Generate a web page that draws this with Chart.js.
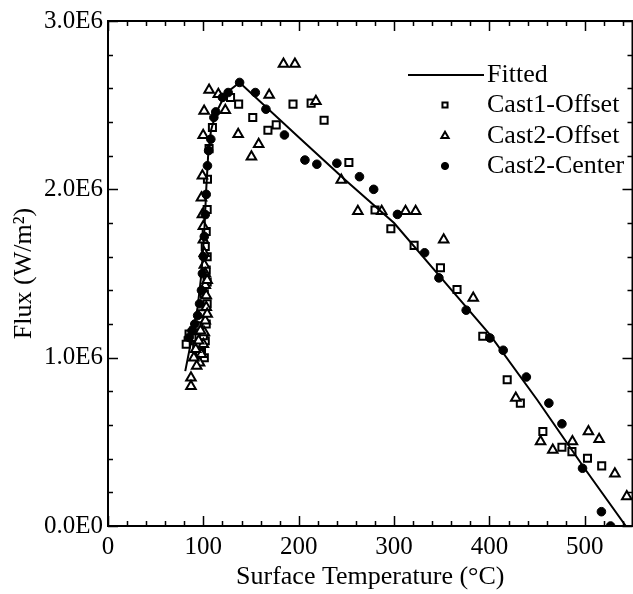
<!DOCTYPE html>
<html>
<head>
<meta charset="utf-8">
<script src="https://cdn.jsdelivr.net/npm/chart.js@4/dist/chart.umd.min.js"></script>
<style>
  html, body { margin: 0; padding: 0; background: #fff; overflow: hidden; }
  #wrap { width: 633px; height: 594px; overflow: hidden; position: relative; }
</style>
</head>
<body>
<div id="wrap"><canvas id="c" width="640" height="594"></canvas></div>
<script>
// Axis ticks
const xTickValues = [0, 100, 200, 300, 400, 500];
const yTickValues = [0, 1e6, 2e6, 3e6];
const yTickLabels = ['0.0E0', '1.0E6', '2.0E6', '3.0E6'];

// [surface temperature (°C), flux (MW/m²)]
const fittedCurve = [
  [81, 0.92], [88, 1.12], [94, 1.30], [98, 1.50], [101, 1.75], [103, 2.00],
  [105, 2.20], [108, 2.35], [113, 2.45], [120, 2.53], [128, 2.59], [138, 2.635],
  [200, 2.31], [250, 2.05], [300, 1.80], [350, 1.47], [400, 1.14], [450, 0.75],
  [500, 0.34], [543, 0.0]
];

const cast1Offset = [
  [128.5, 2.546], [137, 2.506], [194, 2.506], [151.8, 2.427], [109.5, 2.367],
  [167.7, 2.351], [176.4, 2.383], [106, 2.242], [104.3, 2.06], [213, 2.512],
  [226.6, 2.41], [252.6, 2.159], [280, 1.877], [296.6, 1.766], [321, 1.667],
  [348.6, 1.534], [366, 1.405], [393, 1.127], [418.6, 0.869], [432.4, 0.73],
  [456, 0.561], [476, 0.468], [486.5, 0.442], [502.8, 0.403], [517.7, 0.357],
  [104, 1.88], [103, 1.75], [104, 1.60], [104, 1.45], [104, 1.32], [103, 1.20],
  [102, 1.10], [98, 1.05], [93, 1.08], [88, 1.12], [84, 1.10], [82, 1.08],
  [85, 1.14], [101, 1.00], [90, 1.16], [95, 1.19], [99, 1.26], [101, 1.38],
  [100, 1.13], [96, 1.03], [103, 1.52], [102, 1.66]
];

const cast2Offset = [
  [106, 2.59], [115.7, 2.565], [123, 2.47], [169, 2.56], [100.8, 2.466],
  [136.5, 2.327], [99.8, 2.321], [158, 2.268], [150.4, 2.194], [99, 2.08],
  [184, 2.744], [196, 2.744], [218, 2.524], [244.6, 2.055], [262, 1.87],
  [287, 1.87], [312, 1.87], [322.6, 1.87], [352, 1.70], [383, 1.355],
  [427.6, 0.76], [453.6, 0.502], [466.4, 0.452], [487, 0.502], [503.8, 0.561],
  [515, 0.516], [531.5, 0.31], [544, 0.175],
  [98, 1.95], [99, 1.85], [100, 1.78], [100, 1.70], [101, 1.62], [101, 1.55],
  [102, 1.50], [102, 1.43], [103, 1.37], [103, 1.30], [102, 1.22], [101, 1.15],
  [100, 1.08], [98, 1.02], [96, 0.97], [93, 0.95], [90, 1.00], [87, 0.88], [87, 0.83],
  [104, 1.46], [104, 1.26], [95, 1.10], [92, 1.05], [97, 1.16]
];

const cast2Center = [
  [138, 2.635], [126, 2.575], [120, 2.546], [154.5, 2.575], [165.6, 2.476],
  [113, 2.46], [111, 2.427], [185, 2.323], [107.8, 2.298], [105.5, 2.23],
  [104.3, 2.14], [103, 1.97], [206.5, 2.174], [219, 2.149], [240, 2.155],
  [263.7, 2.075], [278.6, 2.0], [303.5, 1.851], [332, 1.623], [347, 1.474],
  [375.6, 1.282], [400.5, 1.117], [414.4, 1.044], [438.7, 0.885], [462.3, 0.73],
  [476, 0.607], [497.6, 0.343], [517.4, 0.085], [527, 0.0],
  [102, 1.85], [101, 1.72], [100, 1.60], [99, 1.50], [98, 1.40], [96, 1.32],
  [94, 1.25], [91, 1.20], [88, 1.16], [85, 1.12]
];

const FONT = "'Liberation Serif', 'Times New Roman', serif";
const toPoints = arr => arr.map(([t, f]) => ({ x: t, y: f * 1e6 }));

// Inward tick marks on all four sides of the frame, plus the top/right frame lines
const frameTicks = {
  id: 'frameTicks',
  afterDraw(chart) {
    const { ctx, chartArea: a, scales: { x, y } } = chart;
    ctx.save();
    ctx.strokeStyle = '#000';
    ctx.lineWidth = 2;
    ctx.beginPath();
    ctx.moveTo(a.left - 1, a.top);
    ctx.lineTo(a.right, a.top);
    ctx.lineTo(a.right, a.bottom);
    ctx.stroke();
    ctx.lineWidth = 1.5;
    ctx.beginPath();
    for (let v = 0; v <= x.max; v += 20) {
      const px = Math.round(x.getPixelForValue(v)) + 0.5;
      const len = v % 100 === 0 ? 10 : 5;
      ctx.moveTo(px, a.bottom); ctx.lineTo(px, a.bottom - len);
      ctx.moveTo(px, a.top); ctx.lineTo(px, a.top + len);
    }
    for (let v = 0; v <= y.max + 1; v += 2e5) {
      const py = Math.round(y.getPixelForValue(v)) + 0.5;
      const len = Math.round(v / 2e5) % 5 === 0 ? 10 : 5;
      ctx.moveTo(a.left, py); ctx.lineTo(a.left + len, py);
      ctx.moveTo(a.right, py); ctx.lineTo(a.right - len, py);
    }
    ctx.stroke();
    ctx.restore();
  }
};

// Legend box in the upper right of the plot
const legendBox = {
  id: 'legendBox',
  afterDraw(chart) {
    const { ctx } = chart;
    const ds = chart.data.datasets;
    ctx.save();
    ctx.font = "26px " + FONT;
    ctx.textBaseline = 'middle';
    ctx.textAlign = 'left';
    const textX = 487;
    const rows = [75, 105, 136, 166];
    // fitted line sample
    ctx.strokeStyle = '#000';
    ctx.lineWidth = 2;
    ctx.beginPath();
    ctx.moveTo(408, rows[0]); ctx.lineTo(484, rows[0]);
    ctx.stroke();
    ctx.fillStyle = '#000';
    ctx.fillText(ds[0].label, textX, rows[0]);
    for (let i = 1; i < 4; i++) {
      const d = ds[i];
      ctx.fillStyle = d.backgroundColor;
      ctx.strokeStyle = '#000';
      ctx.lineWidth = d.borderWidth;
      Chart.helpers.drawPoint(ctx, {
        pointStyle: d.pointStyle,
        radius: d.legendRadius,
        borderWidth: d.borderWidth,
        rotation: 0
      }, 445, rows[i]);
      ctx.fillStyle = '#000';
      ctx.fillText(d.label, textX, rows[i]);
    }
    ctx.restore();
  }
};

new Chart(document.getElementById('c'), {
  data: {
    datasets: [
      {
        type: 'line', label: 'Fitted', data: toPoints(fittedCurve),
        borderColor: '#000', borderWidth: 2, pointRadius: 0, tension: 0, fill: false, order: 0
      },
      {
        type: 'scatter', label: 'Cast1-Offset', data: toPoints(cast1Offset),
        pointStyle: 'rect', pointRadius: 5, legendRadius: 3.6, borderWidth: 2,
        borderColor: '#000', backgroundColor: '#fff', order: 3
      },
      {
        type: 'scatter', label: 'Cast2-Offset', data: toPoints(cast2Offset),
        pointStyle: 'triangle', pointRadius: 5.5, legendRadius: 4.2, borderWidth: 2,
        borderColor: '#000', backgroundColor: '#fff', order: 2
      },
      {
        type: 'scatter', label: 'Cast2-Center', data: toPoints(cast2Center),
        pointStyle: 'circle', pointRadius: 4.3, legendRadius: 3.6, borderWidth: 1,
        borderColor: '#000', backgroundColor: '#000', order: 1
      }
    ]
  },
  options: {
    responsive: false,
    devicePixelRatio: 1,
    animation: false,
    layout: { padding: { left: 0, top: 21, right: 3, bottom: 0 } },
    plugins: { legend: { display: false }, tooltip: { enabled: false } },
    scales: {
      x: {
        type: 'linear', position: 'bottom', min: 0, max: 550,
        grid: { display: false, drawTicks: false, tickLength: 0 },
        border: { display: true, color: '#000', width: 2 },
        afterBuildTicks: s => { s.ticks = xTickValues.map(v => ({ value: v })); },
        afterFit: s => { s.height = 68; },
        ticks: { color: '#000', padding: 6, font: { family: FONT, size: 25 }, maxRotation: 0 },
        title: {
          display: true, text: 'Surface Temperature (°C)', color: '#000',
          font: { family: FONT, size: 26 }, padding: { top: 0, bottom: 1 }
        }
      },
      y: {
        type: 'linear', position: 'left', min: 0, max: 3e6,
        grid: { display: false, drawTicks: false, tickLength: 0 },
        border: { display: true, color: '#000', width: 2 },
        afterBuildTicks: s => { s.ticks = yTickValues.map(v => ({ value: v })); },
        afterFit: s => { s.width = 108; },
        ticks: {
          color: '#000', padding: 5, font: { family: FONT, size: 25 },
          callback: v => yTickLabels[yTickValues.indexOf(v)]
        },
        title: {
          display: true, text: 'Flux (W/m²)', color: '#000',
          font: { family: FONT, size: 26 }, padding: { top: 9, bottom: 0 }
        }
      }
    }
  },
  plugins: [frameTicks, legendBox]
});
</script>
</body>
</html>
